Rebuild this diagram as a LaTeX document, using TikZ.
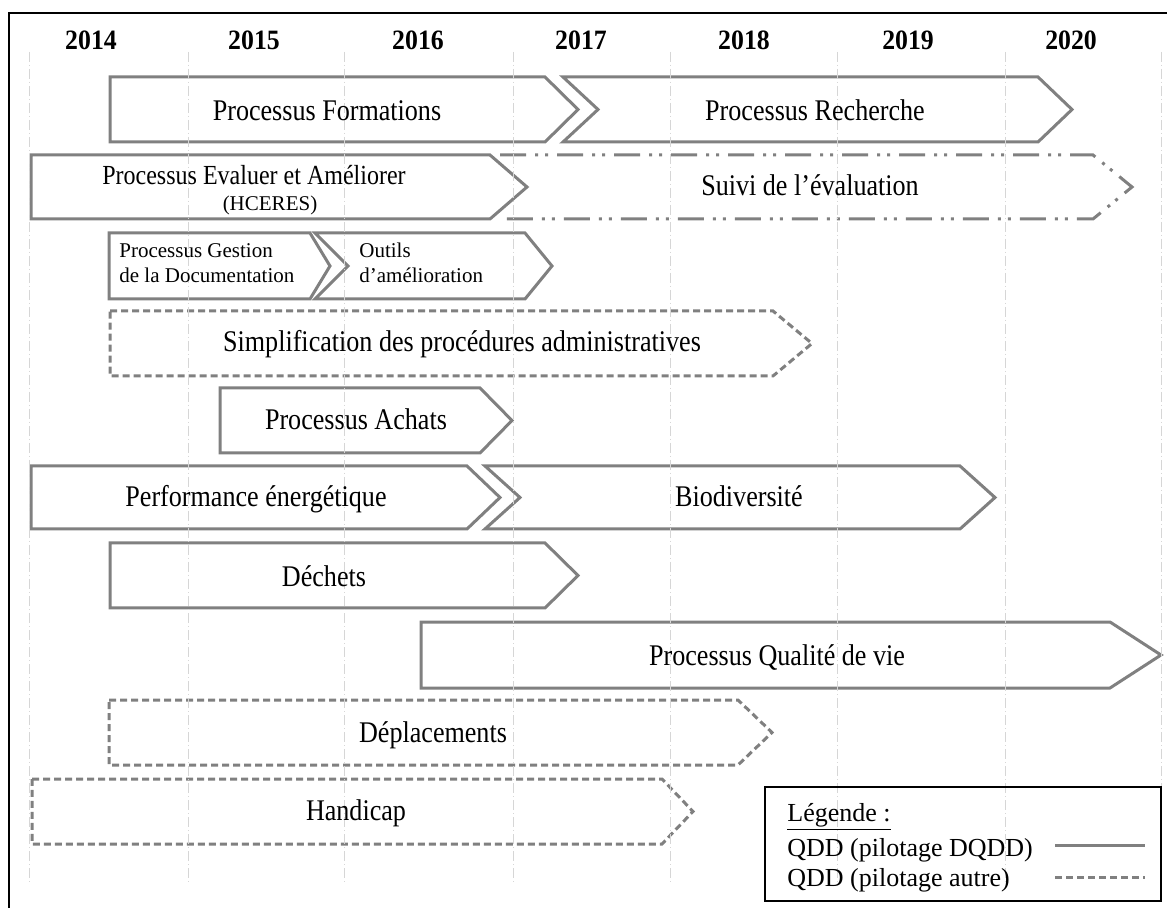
\documentclass[tikz,border=0pt]{standalone}
\usepackage{fontspec}
\setmainfont{Liberation Serif}
\newfontfamily\condfont[FakeStretch=0.87]{Liberation Serif}
\newfontfamily\yearfont[FakeStretch=0.92]{Liberation Serif}
\usetikzlibrary{positioning}

% bar with a pointed end: style, left, body end, tip, top, bottom
\newcommand{\plainbar}[6]{%
  \draw[#1] (#2,#5) -- (#3,#5) -- (#4,{(#5+#6)/2}) -- (#3,#6) -- (#2,#6) -- cycle;}
% same, with a notch on the left: style, left, notch, body end, tip, top, bottom
\newcommand{\notchbar}[7]{%
  \draw[#1] (#2,#6) -- (#4,#6) -- (#5,{(#6+#7)/2}) -- (#4,#7) -- (#2,#7) -- (#3,{(#6+#7)/2}) -- cycle;}

\begin{document}
\begin{tikzpicture}[x=0.5pt,y=-0.5pt,
  gridline/.style={draw=black!16, line width=0.5pt, dash pattern=on 5pt off 1.5pt on 0.5pt off 1.5pt},
  dqdd/.style={draw=black!50, line width=1.5pt},
  autre/.style={dqdd, dash pattern=on 3.5pt off 2pt},
  suivi/.style={dqdd, dash pattern=on 13pt off 4.5pt on 1.5pt off 3.5pt on 1.5pt off 4.5pt},
  barlabel/.style={font=\condfont\fontsize{15}{18}\selectfont, inner sep=0pt, anchor=base},
  smalllabel/.style={font=\fontsize{10.5}{12.5}\selectfont, inner sep=0pt, anchor=base west},
  yearlabel/.style={font=\yearfont\bfseries\fontsize{14}{17}\selectfont, inner sep=0pt, anchor=base},
  legendtext/.style={font=\fontsize{13}{15}\selectfont, inner sep=0pt, anchor=base west}]
  \useasboundingbox (0,0) rectangle (1167,908);

  % frame
  \draw[line width=1pt] (1180,13) -- (9,13) -- (9,920);

  % years
  \node[yearlabel] (y2014) at (91,50) {2014};
  \node[yearlabel] (y2015) at (254,50) {2015};
  \node[yearlabel] (y2016) at (418,50) {2016};
  \node[yearlabel] (y2017) at (581,50) {2017};
  \node[yearlabel] (y2018) at (744,50) {2018};
  \node[yearlabel] (y2019) at (908,50) {2019};
  \node[yearlabel] (y2020) at (1071,50) {2020};

  % bars
  \plainbar{dqdd}{110}{545}{578}{77}{142}
  \notchbar{dqdd}{563}{598}{1038}{1072}{77}{142}
  \draw[suivi] (500,155) -- (1093,155) -- (1132,187) -- (1093,219) -- (500,219);
  \plainbar{dqdd,fill=white}{31}{490}{527}{155}{219}
  \plainbar{dqdd}{109}{310}{330}{233}{299}
  \notchbar{dqdd}{315}{348}{525}{552}{233}{299}
  \plainbar{autre}{110}{773}{812}{311}{376}
  \plainbar{dqdd}{220}{480}{512}{388}{453}
  \plainbar{dqdd}{31}{467}{500}{466}{529}
  \notchbar{dqdd}{485}{520}{960}{995}{466}{529}
  \plainbar{dqdd}{110}{545}{578}{543}{608}
  \plainbar{dqdd}{421}{1110}{1161}{622}{688}
  \plainbar{autre}{109}{738}{772}{700}{765}
  \plainbar{autre}{32}{662}{693}{779}{844}

  % year grid
  \foreach \gx in {29,188,344,513,670,837,1005,1161}
    \draw[gridline] (\gx,52) -- (\gx,883);

  % labels
  \node[barlabel] (formations) at (327,121) {Processus Formations};
  \node[barlabel] (recherche) at (815,121) {Processus Recherche};
  \node[barlabel, font=\condfont\fontsize{13.8}{16}\selectfont] (evaluer) at (254,185) {Processus Evaluer et Améliorer};
  \node[smalllabel, anchor=base] (hceres) at (270,211) {(HCERES)};
  \node[barlabel] (suiviEval) at (810,196) {Suivi de l’évaluation};
  \node[smalllabel] (gestion) at (119,258) {Processus Gestion};
  \node[smalllabel] (gestionB) at (119,283) {de la Documentation};
  \node[smalllabel] (outils) at (359,258) {Outils};
  \node[smalllabel] (outilsB) at (359,283) {d’amélioration};
  \node[barlabel] (simplif) at (462,352) {Simplification des procédures administratives};
  \node[barlabel] (achats) at (356,430) {Processus Achats};
  \node[barlabel] (energie) at (256,507) {Performance énergétique};
  \node[barlabel] (biodiv) at (739,507) {Biodiversité};
  \node[barlabel] (dechets) at (324,587) {Déchets};
  \node[barlabel] (qualite) at (777,665) {Processus Qualité de vie};
  \node[barlabel] (deplacements) at (433,742) {Déplacements};
  \node[barlabel] (handicap) at (356,820) {Handicap};

  % legend
  \draw[line width=1pt] (765,787) rectangle (1161,901);
  \node[legendtext] (legtitle) at (787,821) {\underline{Légende :}};
  \node[legendtext] (legdqdd) at (787,856) {QDD (pilotage DQDD)};
  \node[legendtext] (legautre) at (787,886) {QDD (pilotage autre)};
  \coordinate (solidA) at (1055,845);
  \coordinate (solidB) at (1145,845);
  \coordinate (dashA) at (1055,877);
  \coordinate (dashB) at (1145,877);
  \draw[dqdd] (solidA) -- (solidB);
  \draw[autre] (dashA) -- (dashB);
\end{tikzpicture}
\end{document}
